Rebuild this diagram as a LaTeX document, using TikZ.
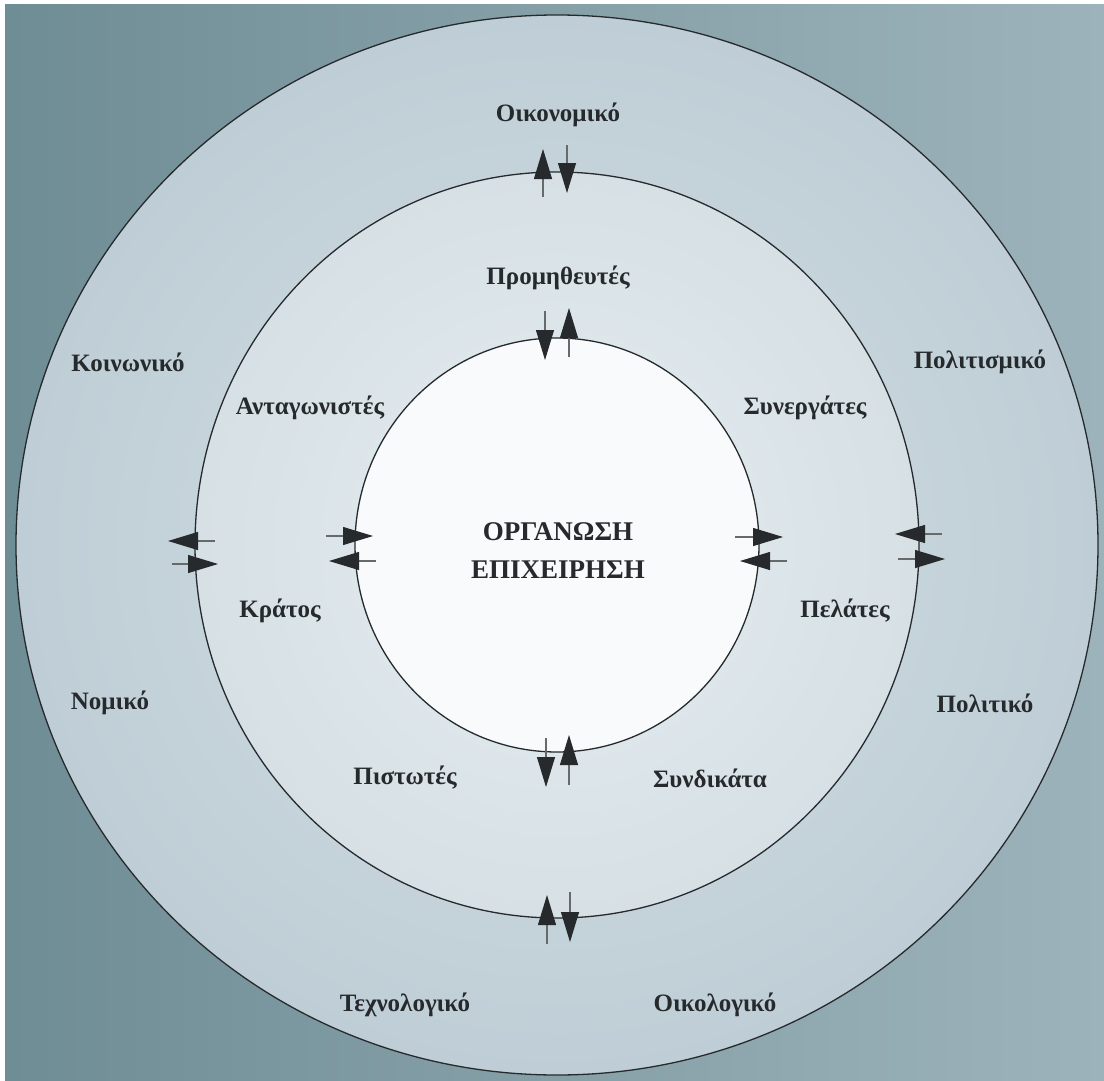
\documentclass[tikz,border=0pt]{standalone}
\usepackage{fontspec}
\setmainfont{Liberation Serif}
\usetikzlibrary{arrows.meta}
\definecolor{bgdark}{HTML}{6F8D95}
\definecolor{bglight}{HTML}{9DB3BB}
\definecolor{ringout}{HTML}{BFCED6}
\definecolor{ringin}{HTML}{D2DDE3}
\definecolor{midout}{HTML}{D6E0E5}
\definecolor{midin}{HTML}{E6EDF0}
\definecolor{core}{HTML}{F8FAFB}
\definecolor{ink}{HTML}{262A2C}
\tikzset{
  lbl/.style={font=\bfseries\fontsize{25}{28}\selectfont, text=ink},
  core label/.style={font=\bfseries\fontsize{27}{38}\selectfont, text=ink, align=center},
  rim/.style={draw=ink, line width=1.3pt},
  flow/.style={draw=ink!70, line width=1.1pt,
    -{Triangle[length=30pt,width=18pt,fill=ink,color=ink]}}
}
\begin{document}
\begin{tikzpicture}[x=1pt,y=-1pt]
% page and background
\useasboundingbox (0,0) rectangle (1104,1081);
\fill[white] (0,0) rectangle (1104,1081);
\shade[left color=bgdark, right color=bglight] (5,5) rectangle (1104,1081);
% rings
\coordinate (C) at (557,545);
\shade[inner color=ringin, outer color=ringout, rim] (C) ellipse [x radius=541, y radius=530];
\shade[inner color=midin, outer color=midout, rim] (C) ellipse [x radius=362, y radius=373];
\fill[core] (C) ellipse [x radius=202, y radius=207];
\draw[rim] (C) ellipse [x radius=202, y radius=207];

% outer environment
\node[lbl] (oik) at (558,115) {Οικονομικό};
\node[lbl] (koin) at (128,362) {Κοινωνικό};
\node[lbl] (polit) at (980,362) {Πολιτισμικό};
\node[lbl] (nom) at (110,703) {Νομικό};
\node[lbl] (pol) at (985,703) {Πολιτικό};
\node[lbl] (tex) at (405,1005) {Τεχνολογικό};
\node[lbl] (oikol) at (715,1005) {Οικολογικό};

% task environment
\node[lbl] (prom) at (558,278) {Προμηθευτές};
\node[lbl] (antag) at (310,408) {Ανταγωνιστές};
\node[lbl] (syn) at (805,408) {Συνεργάτες};
\node[lbl] (krat) at (280,611) {Κράτος};
\node[lbl] (pel) at (845,611) {Πελάτες};
\node[lbl] (pist) at (405,778) {Πιστωτές};
\node[lbl] (synd) at (710,778) {Συνδικάτα};

% organisation
\node[core label] (org) at (558,551) {ΟΡΓΑΝΩΣΗ\\ΕΠΙΧΕΙΡΗΣΗ};

% exchanges across the boundaries
\foreach \ax/\ay/\bx/\by in {
  543/197/543/149, 567/145/567/193,
  545/311/545/360, 569/357/569/308,
  215/541/168/541, 172/564/218/564,
  326/536/373/536, 376/561/329/561,
  735/537/783/537, 787/561/740/561,
  942/534/895/534, 898/559/945/559,
  546/738/546/787, 569/785/569/735,
  547/944/547/895, 570/892/570/942}
  \draw[flow] (\ax,\ay) -- (\bx,\by);
\end{tikzpicture}
\end{document}
